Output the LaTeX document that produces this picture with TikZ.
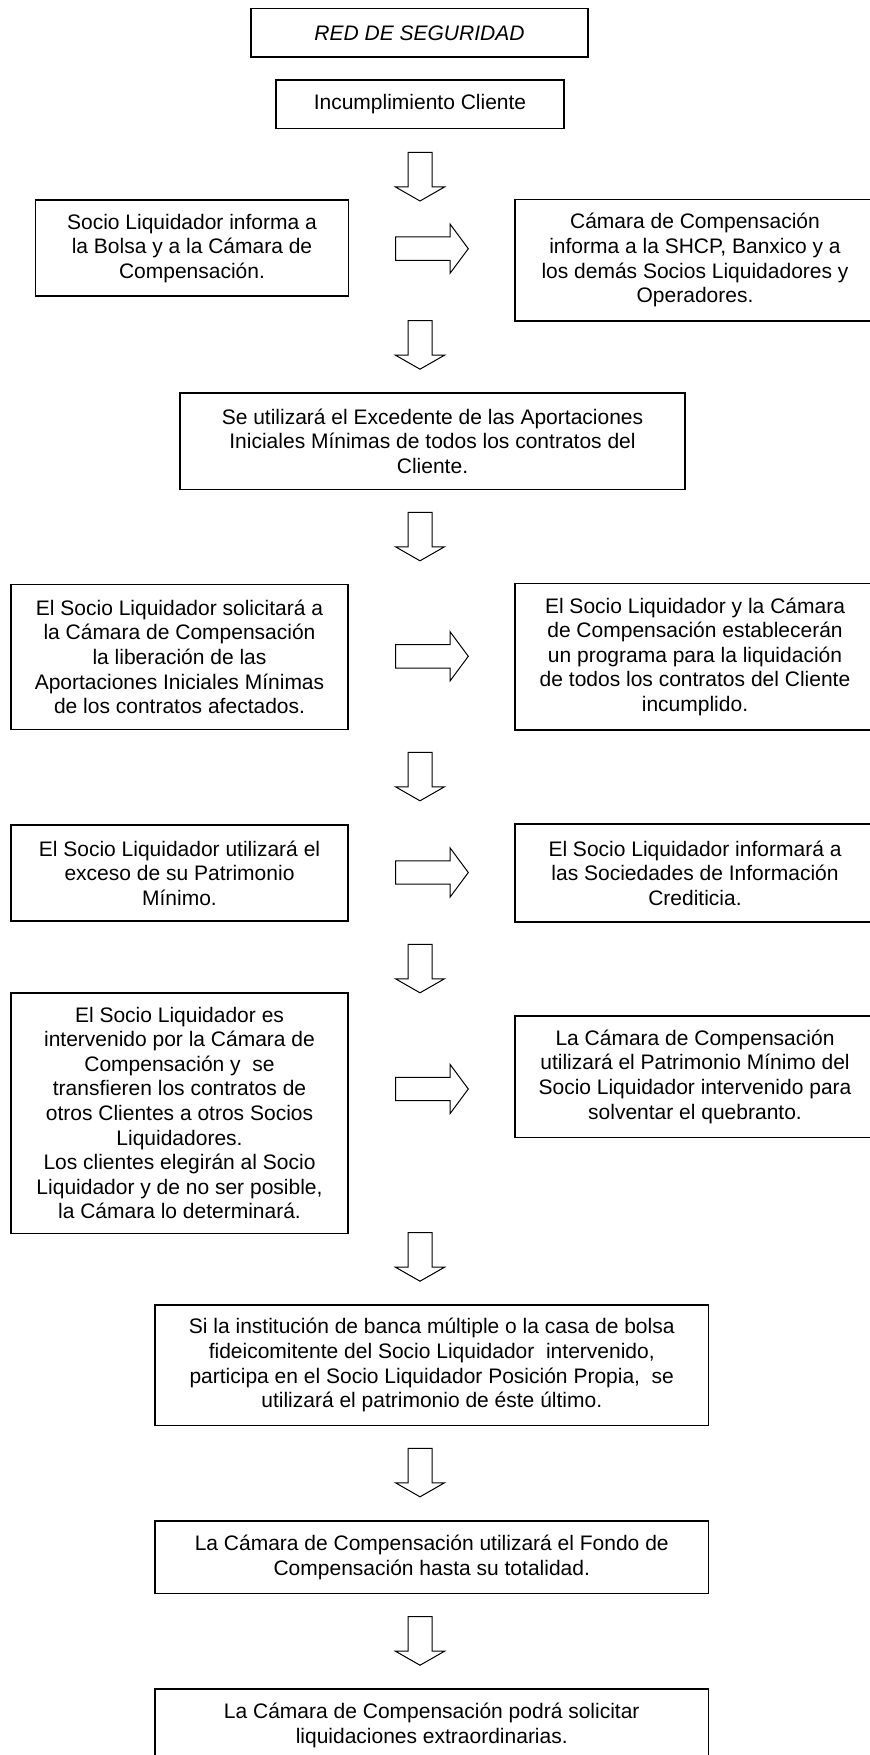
\documentclass[tikz,border=0pt]{standalone}
\usepackage{fontspec}
\setmainfont{Liberation Sans}
\usepackage{tikz}
\tikzset{caja/.style={draw, line width=0.8pt, align=center, inner sep=0pt, font=\fontsize{10.5}{12.3}\selectfont}}
\tikzset{caja abierta/.style={caja, draw=none}}
\tikzset{borde/.style={line width=0.8pt}}
\tikzset{flecha/.style={draw, line width=0.5pt, line join=miter}}
\tikzset{flecha abajo/.pic={\draw[flecha] (-12,0) -- (12,0) -- (12,34.5) -- (24.5,34.5) -- (0,48.5) -- (-24.5,34.5) -- (-12,34.5) -- cycle;}}
\tikzset{flecha derecha/.pic={\draw[flecha] (0,-11.7) -- (54.3,-11.7) -- (54.3,-24.7) -- (72.6,0) -- (54.3,24.7) -- (54.3,11.7) -- (0,11.7) -- cycle;}}

\begin{document}
\begin{tikzpicture}[x=0.5pt, y=-0.5pt]

            \useasboundingbox (0,0) rectangle (870,1755);
            \clip (0,0) rectangle (870,1755);

            \def \anchoIzq{168.5pt}
            \def \anchoDer{179pt}
            \def \anchoCentro{276.75pt}

            \node[caja, minimum width=168.5pt, minimum height=24.3pt] (titulo) at (419.5, 33) {\textit{RED DE SEGURIDAD}};
            \node[caja, minimum width=144pt, minimum height=24.2pt] (incumplimiento) at (420, 104.5) {Incumplimiento Cliente};

            \node[caja, minimum width=156.5pt, minimum height=47.9pt] (socioInforma) at (192, 248.2) {Socio Liquidador informa a\\la Bolsa y a la Cámara de\\Compensación.};
            \node[caja abierta, minimum width=\anchoDer, minimum height=59.9pt] (camaraInforma) at (695, 260.2) {Cámara de Compensación\\informa a la SHCP, Banxico y a\\los demás Socios Liquidadores y\\Operadores.};

            \node[caja, minimum width=252.5pt, minimum height=48.3pt] (excedente) at (432.5, 441) {Se utilizará el Excedente de las Aportaciones\\Iniciales Mínimas de todos los contratos del\\Cliente.};

            \node[caja, minimum width=\anchoIzq, minimum height=72.5pt] (solicita) at (179.5, 656.8) {El Socio Liquidador solicitará a\\la Cámara de Compensación\\la liberación de las\\Aportaciones Iniciales Mínimas\\de los contratos afectados.};
            \node[caja abierta, minimum width=\anchoDer, minimum height=72.5pt] (programa) at (695, 656.8) {El Socio Liquidador y la Cámara\\de Compensación establecerán\\un programa para la liquidación\\de todos los contratos del Cliente\\incumplido.};

            \node[caja, minimum width=\anchoIzq, minimum height=48pt] (exceso) at (179.5, 873) {El Socio Liquidador utilizará el\\exceso de su Patrimonio\\Mínimo.};
            \node[caja abierta, minimum width=\anchoDer, minimum height=48pt] (sociedades) at (695, 873) {El Socio Liquidador informará a\\las Sociedades de Información\\Crediticia.};

            \node[caja, minimum width=\anchoIzq, minimum height=120.3pt] (intervenido) at (179.5, 1113) {El Socio Liquidador es\\intervenido por la Cámara de\\Compensación y\ \ se\\transfieren los contratos de\\otros Clientes a otros Socios\\Liquidadores.\\Los clientes elegirán al Socio\\Liquidador y de no ser posible,\\la Cámara lo determinará.};
            \node[caja abierta, minimum width=\anchoDer, minimum height=60pt] (patrimonio) at (695, 1076.7) {La Cámara de Compensación\\utilizará el Patrimonio Mínimo del\\Socio Liquidador intervenido para\\solventar el quebranto.};

            % las cajas de la derecha salen del papel
            \foreach \caja in {camaraInforma, programa, sociedades, patrimonio}
              \draw[borde] ([xshift=200pt]\caja.north west) -- (\caja.north west) -- (\caja.south west) -- ([xshift=200pt]\caja.south west);

            \node[caja, minimum width=\anchoCentro, minimum height=60.35pt] (banca) at (431.75, 1365.3) {Si la institución de banca múltiple o la casa de bolsa\\fideicomitente del Socio Liquidador\ \ intervenido,\\participa en el Socio Liquidador Posición Propia,\ \ se\\utilizará el patrimonio de éste último.};
            \node[caja, minimum width=\anchoCentro, minimum height=36.35pt] (fondo) at (431.75, 1557.3) {La Cámara de Compensación utilizará el Fondo de\\Compensación hasta su totalidad.};
            \node[caja, minimum width=\anchoCentro, minimum height=36.5pt] (extraordinarias) at (431.75, 1725.5) {La Cámara de Compensación podrá solicitar\\liquidaciones extraordinarias.};

            % flechas
            \foreach \y in {152.5, 320.7, 512.3, 752.3, 944.3, 1232.7, 1448.3, 1616.7}
              \pic at (420, \y) {flecha abajo};
            \foreach \y in {248.7, 656.3, 872.5, 1089}
              \pic at (395.7, \y) {flecha derecha};

          \end{tikzpicture}
\end{document}
